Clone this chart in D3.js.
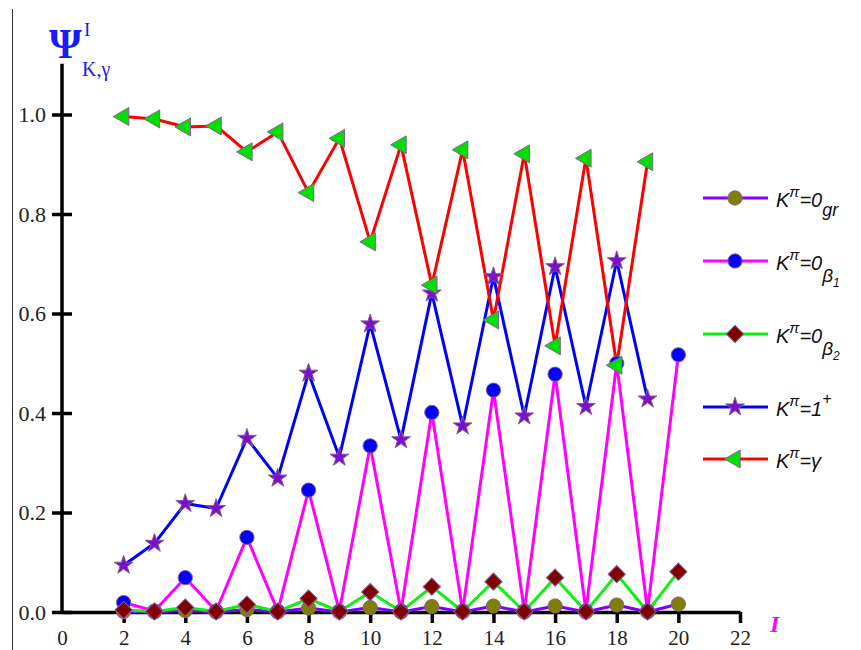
<!DOCTYPE html>
<html>
<head>
<meta charset="utf-8">
<script src="https://cdn.jsdelivr.net/npm/d3@7"></script>
<style>
  body { margin: 0; background: #fff; }
  svg { display: block; }
</style>
</head>
<body>
<svg id="chart"></svg>
<script>
// spin values I = 2..20
var spins = d3.range(2, 21);
var spinsShort = d3.range(2, 20);

var psiGr = [0.001, 0, 0.003, 0, 0.005, 0, 0.008, 0, 0.009, 0, 0.011, 0, 0.012, 0, 0.012, 0, 0.014, 0, 0.016];
var psiBeta1 = [0.019, 0.002, 0.069, 0.002, 0.150, 0.002, 0.245, 0.002, 0.334, 0.002, 0.401, 0.002, 0.446, 0.002, 0.478, 0.002, 0.500, 0.002, 0.517];
var psiBeta2 = [0.004, 0.001, 0.009, 0.001, 0.015, 0.001, 0.027, 0.001, 0.040, 0.001, 0.051, 0.001, 0.061, 0.001, 0.069, 0.001, 0.076, 0.001, 0.081];
var psiOne = [0.094, 0.138, 0.218, 0.208, 0.349, 0.269, 0.480, 0.311, 0.579, 0.346, 0.641, 0.374, 0.674, 0.394, 0.694, 0.413, 0.706, 0.428];
var psiGamma = [0.996, 0.991, 0.975, 0.977, 0.925, 0.965, 0.843, 0.952, 0.744, 0.939, 0.657, 0.929, 0.587, 0.921, 0.535, 0.912, 0.496, 0.905];

var xTicks = d3.range(0, 23, 2);
var yTicks = [0, 0.2, 0.4, 0.6, 0.8, 1.0];

var W = 861, H = 650;

var x = d3.scaleLinear().domain([0, 22]).range([62, 740]);
var y = d3.scaleLinear().domain([0, 1]).range([612, 114.5]);

var svg = d3.select("#chart").attr("width", W).attr("height", H);

// thin frame line at the left
svg.append("line")
  .attr("x1", 12.5).attr("x2", 12.5).attr("y1", 9).attr("y2", H)
  .attr("stroke", "#333").attr("stroke-width", 1);

// series, drawn bottom to top
var series = [
  { values: psiGr, xs: spins, line: "#8000ff", fill: "#808000", symbol: "circle" },
  { values: psiBeta1, xs: spins, line: "#ff00ff", fill: "#0000ff", symbol: "circle" },
  { values: psiBeta2, xs: spins, line: "#11ee11", fill: "#800000", symbol: "diamond" },
  { values: psiOne, xs: spinsShort, line: "#0000ff", fill: "#7a10c8", symbol: "star" },
  { values: psiGamma, xs: spinsShort, line: "#ff0000", fill: "#00e000", symbol: "triangle" }
];

function symbolPath(kind) {
  if (kind === "circle") return d3.symbol(d3.symbolCircle, 160)();
  if (kind === "diamond") return d3.symbol(d3.symbolSquare, 150)();
  if (kind === "star") return d3.symbol(d3.symbolStar, 110)();
  return d3.symbol(d3.symbolTriangle, 140)();
}
function symbolRotate(kind) {
  if (kind === "diamond") return 45;
  if (kind === "triangle") return -90;
  return 0;
}

function drawMarker(g, s, px, py) {
  g.append("path")
    .attr("d", symbolPath(s.symbol))
    .attr("transform", "translate(" + px + "," + py + ") rotate(" + symbolRotate(s.symbol) + ")")
    .attr("fill", s.fill)
    .attr("stroke", "#8a5a9a")
    .attr("stroke-width", 1);
}

// axes
var axisG = svg.append("g");

var xAxis = d3.axisBottom(x).tickValues(xTicks).tickSize(11).tickSizeOuter(0).tickFormat(d3.format("d"));
var gx = axisG.append("g").attr("transform", "translate(0," + y(0) + ")").call(xAxis);
gx.select(".domain").attr("stroke", "#000").attr("stroke-width", 3.5);
gx.selectAll(".tick line").attr("stroke", "#000").attr("stroke-width", 3.5)
  .attr("y1", 0);
gx.selectAll(".tick").filter(function (d) { return d === 0; }).select("line").remove();
gx.selectAll(".tick text")
  .attr("y", 18).attr("dy", "0.71em")
  .attr("font-family", "Liberation Serif, serif").attr("font-size", 21).attr("fill", "#222");

var yAxis = d3.axisLeft(y).tickValues(yTicks).tickSize(10).tickSizeOuter(0).tickFormat(d3.format(".1f"));
var gy = axisG.append("g").attr("transform", "translate(" + x(0) + ",0)").call(yAxis);
gy.select(".domain").attr("d", "M0," + y(0) + "V" + y(1.102)).attr("stroke", "#000").attr("stroke-width", 3.5);
gy.selectAll(".tick line").attr("stroke", "#000").attr("stroke-width", 3.5)
  .attr("x1", -10).attr("x2", 10);
gy.selectAll(".tick text")
  .attr("x", -16).attr("dy", "0.34em")
  .attr("font-family", "Liberation Serif, serif").attr("font-size", 22).attr("fill", "#222");

var plot = svg.append("g");
var line = d3.line();

series.forEach(function (s) {
  var pts = s.values.map(function (v, i) { return [x(s.xs[i]), y(v)]; });
  plot.append("path")
    .attr("d", line(pts))
    .attr("fill", "none")
    .attr("stroke", s.line)
    .attr("stroke-width", 3)
    .attr("stroke-linejoin", "round");
});
series.forEach(function (s) {
  var g = plot.append("g");
  s.values.forEach(function (v, i) { drawMarker(g, s, x(s.xs[i]), y(v)); });
});

// axis titles
var title = svg.append("text")
  .attr("font-family", "Liberation Serif, serif").attr("fill", "#1a1aff");
title.append("tspan").attr("x", 49).attr("y", 58).attr("font-size", 42).attr("font-weight", "bold").text("Ψ");
title.append("tspan").attr("x", 84).attr("y", 36).attr("font-size", 19).text("I");
title.append("tspan").attr("x", 82).attr("y", 76).attr("font-size", 20).text("K,γ");

svg.append("text")
  .attr("x", 770).attr("y", 632)
  .attr("font-family", "Liberation Serif, serif").attr("font-style", "italic").attr("font-weight", "bold")
  .attr("font-size", 24).attr("fill", "#ff00ff")
  .text("I");

// legend
var legendY = [198, 261, 334, 407, 459];
var legendSub = [
  [{ t: "=0" }, { t: "gr", dy: 9, size: 18 }],
  [{ t: "=0" }, { t: "β", dy: 12, size: 19 }, { t: "1", dy: 5, size: 12 }],
  [{ t: "=0" }, { t: "β", dy: 12, size: 19 }, { t: "2", dy: 5, size: 12 }],
  [{ t: "=1" }, { t: "+", dy: -12, size: 16 }],
  [{ t: "=γ" }]
];

var legend = svg.append("g");
series.forEach(function (s, i) {
  var ly = legendY[i];
  legend.append("line")
    .attr("x1", 703).attr("x2", 768).attr("y1", ly).attr("y2", ly)
    .attr("stroke", s.line).attr("stroke-width", 3);
  drawMarker(legend, s, 735, ly);

  var t = legend.append("text")
    .attr("x", 776).attr("y", ly + 9)
    .attr("font-family", "Liberation Sans, Arial, sans-serif")
    .attr("font-style", "italic").attr("font-size", 20).attr("fill", "#111");
  t.append("tspan").text("K");
  t.append("tspan").attr("dy", -10).attr("font-size", 15).text("π");
  t.append("tspan").attr("dy", 10).attr("font-size", 20).text(legendSub[i][0].t);
  legendSub[i].slice(1).forEach(function (p) {
    t.append("tspan").attr("dy", p.dy).attr("font-size", p.size).text(p.t);
  });
});
</script>
</body>
</html>
